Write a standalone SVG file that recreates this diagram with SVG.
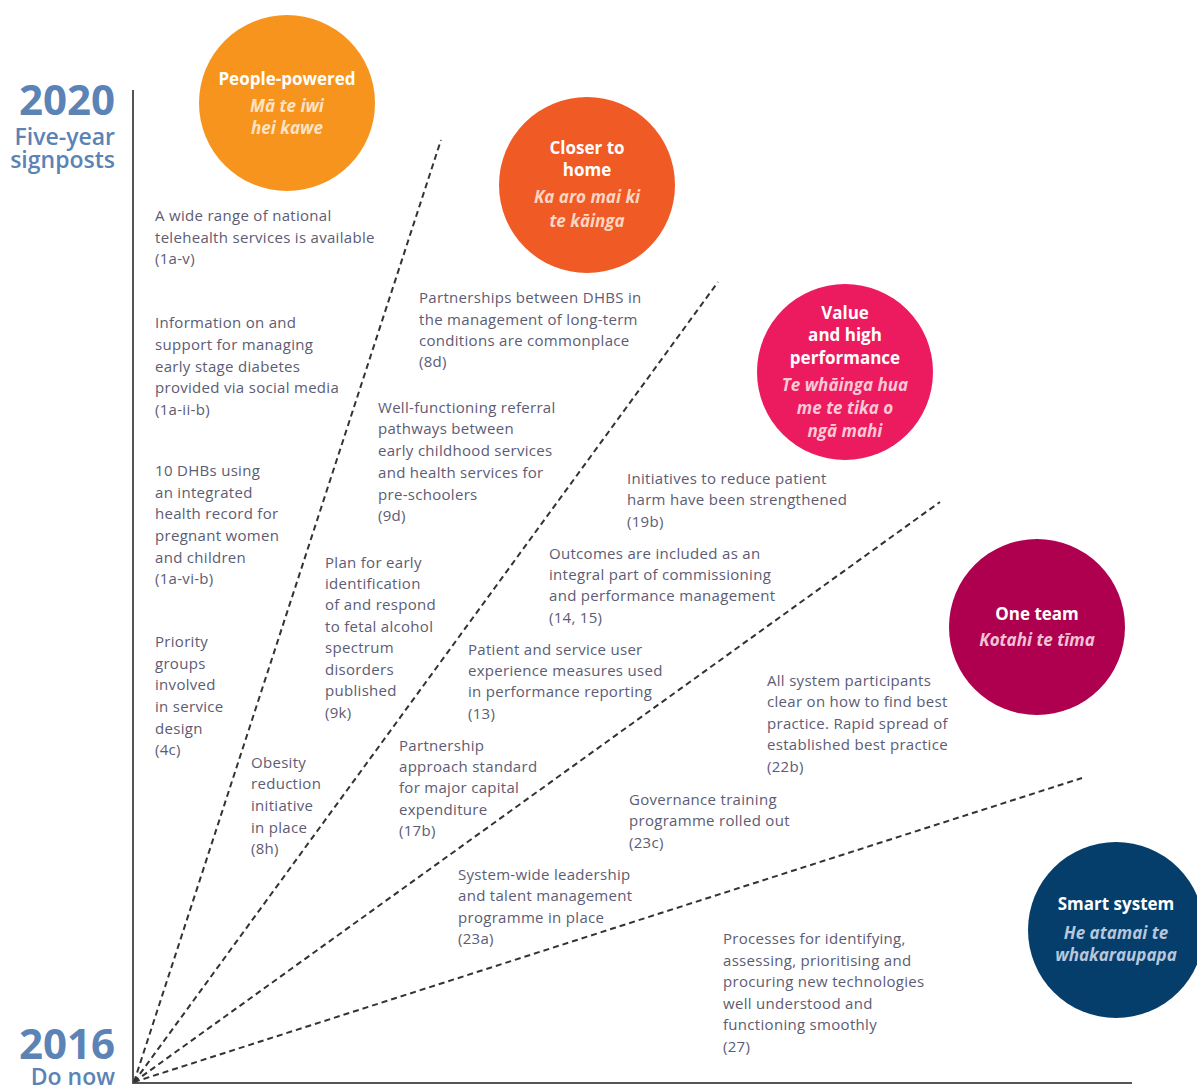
<svg xmlns="http://www.w3.org/2000/svg" width="1197" height="1086" viewBox="0 0 1197 1086">
  <style>
    .yr { font-family: "Open Sans", "Liberation Sans", sans-serif; font-weight: 700; font-size: 42px; fill: #5b83b6; text-anchor: end; }
    .yrsub { font-family: "Open Sans", "Liberation Sans", sans-serif; font-weight: 600; font-size: 23px; fill: #5b83b6; text-anchor: end; }
    .axis { stroke: #555; stroke-width: 2; fill: none; }
    .ray { stroke: #333; stroke-width: 2; stroke-dasharray: 6 4; fill: none; }
    .body { font-family: "Open Sans", "Liberation Sans", sans-serif; font-size: 15px; letter-spacing: 0.3px; fill: #5c5c74; }
    .ttl { font-family: "Open Sans", "Liberation Sans", sans-serif; font-size: 17px; font-weight: 700; fill: #fff; text-anchor: middle; }
    .mao { font-family: "Open Sans", "Liberation Sans", sans-serif; font-size: 17px; font-weight: 700; font-style: italic; text-anchor: middle; }
  </style>

  <!-- Year labels -->
  <g id="year-2020">
    <text class="yr" x="115" y="115">2020</text>
    <text class="yrsub" x="115" y="145">Five-year</text>
    <text class="yrsub" x="115" y="168">signposts</text>
  </g>
  <g id="year-2016">
    <text class="yr" x="115" y="1059">2016</text>
    <text class="yrsub" x="115" y="1085">Do now</text>
  </g>

  <!-- Axes and dashed rays from the 2016 origin -->
  <g id="connectors">
    <line class="axis" x1="133" y1="90" x2="133" y2="1084"/>
    <line class="axis" x1="132" y1="1083" x2="1132" y2="1083"/>
    <line class="ray" x1="134" y1="1082" x2="441" y2="140"/>
    <line class="ray" x1="134" y1="1082" x2="718" y2="282"/>
    <line class="ray" x1="134" y1="1082" x2="940" y2="502"/>
    <line class="ray" x1="134" y1="1082" x2="1082" y2="778"/>
  </g>

  <!-- Theme circles -->
  <g id="people-powered">
    <circle cx="287" cy="103" r="88" fill="#f7941d"/>
    <text class="ttl" x="287" y="85">People-powered</text>
    <text class="mao" x="287" y="112" fill="#fde3c6">Mā te iwi</text>
    <text class="mao" x="287" y="134" fill="#fde3c6">hei kawe</text>
  </g>
  <g id="closer-to-home">
    <circle cx="587" cy="185" r="88" fill="#f05a24"/>
    <text class="ttl" x="587" y="154">Closer to</text>
    <text class="ttl" x="587" y="176">home</text>
    <text class="mao" x="587" y="203" fill="#fcd6c4">Ka aro mai ki</text>
    <text class="mao" x="587" y="227" fill="#fcd6c4">te kāinga</text>
  </g>
  <g id="value-high-performance">
    <circle cx="845" cy="372" r="88" fill="#ec1a5e"/>
    <text class="ttl" x="845" y="319">Value</text>
    <text class="ttl" x="845" y="341">and high</text>
    <text class="ttl" x="845" y="364">performance</text>
    <text class="mao" x="845" y="391" fill="#f9c9d6">Te whāinga hua</text>
    <text class="mao" x="845" y="414" fill="#f9c9d6">me te tika o</text>
    <text class="mao" x="845" y="437" fill="#f9c9d6">ngā mahi</text>
  </g>
  <g id="one-team">
    <circle cx="1037" cy="627" r="88" fill="#ae004f"/>
    <text class="ttl" x="1037" y="620">One team</text>
    <text class="mao" x="1037" y="646" fill="#efc3d5">Kotahi te tīma</text>
  </g>
  <g id="smart-system">
    <circle cx="1116" cy="930" r="88" fill="#053d6b"/>
    <text class="ttl" x="1116" y="910">Smart system</text>
    <text class="mao" x="1116" y="939" fill="#b7c7db">He atamai te</text>
    <text class="mao" x="1116" y="961" fill="#b7c7db">whakaraupapa</text>
  </g>

  <!-- Signpost notes -->
  <g id="note-1a-v" class="body">
    <text x="155" y="221">A wide range of national</text>
    <text x="155" y="243">telehealth services is available</text>
    <text x="155" y="264">(1a-v)</text>
  </g>
  <g id="note-1a-ii-b" class="body">
    <text x="155" y="328">Information on and</text>
    <text x="155" y="350">support for managing</text>
    <text x="155" y="372">early stage diabetes</text>
    <text x="155" y="393">provided via social media</text>
    <text x="155" y="415">(1a-ii-b)</text>
  </g>
  <g id="note-1a-vi-b" class="body">
    <text x="155" y="476">10 DHBs using</text>
    <text x="155" y="498">an integrated</text>
    <text x="155" y="519">health record for</text>
    <text x="155" y="541">pregnant women</text>
    <text x="155" y="563">and children</text>
    <text x="155" y="584">(1a-vi-b)</text>
  </g>
  <g id="note-4c" class="body">
    <text x="155" y="647">Priority</text>
    <text x="155" y="669">groups</text>
    <text x="155" y="690">involved</text>
    <text x="155" y="712">in service</text>
    <text x="155" y="734">design</text>
    <text x="155" y="755">(4c)</text>
  </g>
  <g id="note-8h" class="body">
    <text x="251" y="768">Obesity</text>
    <text x="251" y="789">reduction</text>
    <text x="251" y="811">initiative</text>
    <text x="251" y="833">in place</text>
    <text x="251" y="854">(8h)</text>
  </g>
  <g id="note-9k" class="body">
    <text x="325" y="568">Plan for early</text>
    <text x="325" y="589">identification</text>
    <text x="325" y="610">of and respond</text>
    <text x="325" y="632">to fetal alcohol</text>
    <text x="325" y="653">spectrum</text>
    <text x="325" y="675">disorders</text>
    <text x="325" y="696">published</text>
    <text x="325" y="718">(9k)</text>
  </g>
  <g id="note-9d" class="body">
    <text x="378" y="413">Well-functioning referral</text>
    <text x="378" y="434">pathways between</text>
    <text x="378" y="456">early childhood services</text>
    <text x="378" y="478">and health services for</text>
    <text x="378" y="500">pre-schoolers</text>
    <text x="378" y="521">(9d)</text>
  </g>
  <g id="note-8d" class="body">
    <text x="419" y="303">Partnerships between DHBS in</text>
    <text x="419" y="325">the management of long-term</text>
    <text x="419" y="346">conditions are commonplace</text>
    <text x="419" y="367">(8d)</text>
  </g>
  <g id="note-19b" class="body">
    <text x="627" y="484">Initiatives to reduce patient</text>
    <text x="627" y="505">harm have been strengthened</text>
    <text x="627" y="527">(19b)</text>
  </g>
  <g id="note-14-15" class="body">
    <text x="549" y="559">Outcomes are included as an</text>
    <text x="549" y="580">integral part of commissioning</text>
    <text x="549" y="601">and performance management</text>
    <text x="549" y="623">(14, 15)</text>
  </g>
  <g id="note-13" class="body">
    <text x="468" y="655">Patient and service user</text>
    <text x="468" y="676">experience measures used</text>
    <text x="468" y="697">in performance reporting</text>
    <text x="468" y="719">(13)</text>
  </g>
  <g id="note-17b" class="body">
    <text x="399" y="751">Partnership</text>
    <text x="399" y="772">approach standard</text>
    <text x="399" y="793">for major capital</text>
    <text x="399" y="815">expenditure</text>
    <text x="399" y="836">(17b)</text>
  </g>
  <g id="note-22b" class="body">
    <text x="767" y="686">All system participants</text>
    <text x="767" y="707">clear on how to find best</text>
    <text x="767" y="729">practice. Rapid spread of</text>
    <text x="767" y="750">established best practice</text>
    <text x="767" y="772">(22b)</text>
  </g>
  <g id="note-23c" class="body">
    <text x="629" y="805">Governance training</text>
    <text x="629" y="826">programme rolled out</text>
    <text x="629" y="848">(23c)</text>
  </g>
  <g id="note-23a" class="body">
    <text x="458" y="880">System-wide leadership</text>
    <text x="458" y="901">and talent management</text>
    <text x="458" y="923">programme in place</text>
    <text x="458" y="944">(23a)</text>
  </g>
  <g id="note-27" class="body">
    <text x="723" y="944">Processes for identifying,</text>
    <text x="723" y="966">assessing, prioritising and</text>
    <text x="723" y="987">procuring new technologies</text>
    <text x="723" y="1009">well understood and</text>
    <text x="723" y="1030">functioning smoothly</text>
    <text x="723" y="1052">(27)</text>
  </g>
</svg>
